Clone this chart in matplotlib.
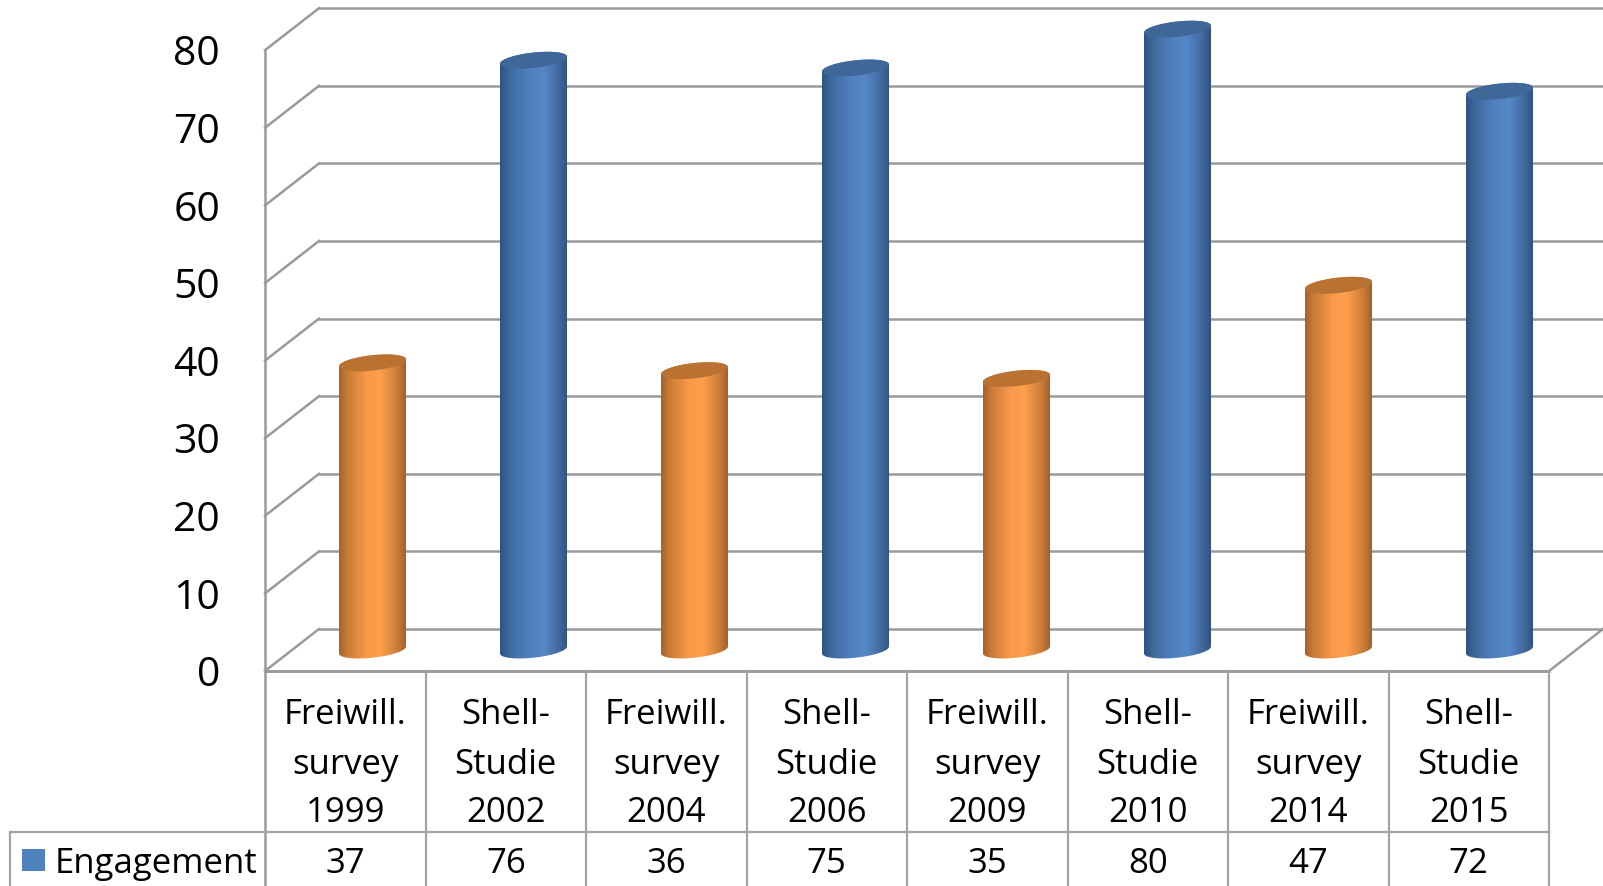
import numpy as np
import matplotlib
matplotlib.use("Agg")
import matplotlib.pyplot as plt
from matplotlib.colors import LinearSegmentedColormap
from matplotlib.patches import Polygon, Rectangle
from matplotlib.transforms import Affine2D

# Survey results
sources = ["Freiwill.\nsurvey\n1999", "Shell-\nStudie\n2002", "Freiwill.\nsurvey\n2004",
           "Shell-\nStudie\n2006", "Freiwill.\nsurvey\n2009", "Shell-\nStudie\n2010",
           "Freiwill.\nsurvey\n2014", "Shell-\nStudie\n2015"]
engagement = [37, 76, 36, 75, 35, 80, 47, 72]
series_name = "Engagement"
y_ticks = [0, 10, 20, 30, 40, 50, 60, 70, 80]

W, H = 1603, 886
FONT = "Open Sans"
GRID = "#9a9a9a"
STEP_X, CX0 = 161.0, 372.5       # pixels per category, first cylinder centre
UNIT_Y, Y0 = 7.76, 650.0         # pixels per unit, baseline of the cylinders
DEPTH_X, DEPTH_Y = 54, 41        # depth of the 3D box

fig = plt.figure(figsize=(W / 100, H / 100), dpi=100, facecolor="white")
ax = fig.add_axes([0, 0, 1, 1])
ax.set_xlim(-CX0 / STEP_X, (W - CX0) / STEP_X)
ax.set_ylim((Y0 - H) / UNIT_Y, Y0 / UNIT_Y)
ax.axis("off")

# Top-left pixel coordinates for the chart frame and the data table
px = Affine2D().scale(1, -1).translate(0, H)


def frame_line(xs, ys, lw=1.8, color=GRID):
    ax.plot(xs, ys, transform=px, color=color, lw=lw, zorder=1,
            solid_capstyle="projecting", clip_on=False)


front_zero = Y0 + 21
back_zero = front_zero - DEPTH_Y - 1
left, right = 265, 1549

# Walls and gridlines
for v in y_ticks:
    yf = front_zero - v * UNIT_Y
    yb = back_zero - v * UNIT_Y
    frame_line([left, left + DEPTH_X], [yf, yb])
    frame_line([left + DEPTH_X, W + 5], [yb, yb])
    ax.text(220, yf + 5, str(v), transform=px, ha="right", va="center",
            fontsize=29.5, family=FONT, color="black")
frame_line([left, left], [front_zero - y_ticks[-1] * UNIT_Y, H])
frame_line([left, right], [front_zero, front_zero], lw=2.1)
frame_line([right, right + DEPTH_X], [front_zero, back_zero])

# Cylinders
orange_cm = LinearSegmentedColormap.from_list(
    "orange", [(0, "#a4622a"), (0.12, "#c97a36"), (0.42, "#f9994a"), (0.62, "#fe9f4c"),
               (0.85, "#d18039"), (1, "#a3622a")])
blue_cm = LinearSegmentedColormap.from_list(
    "blue", [(0, "#2f5280"), (0.14, "#3f6a9f"), (0.45, "#5182c0"), (0.65, "#5687c6"),
             (0.87, "#41699f"), (1, "#30527f")])
half_w = 33.5 / STEP_X
ell_b = 7.7 / UNIT_Y
ell_k = 3.5 / UNIT_Y
t = np.linspace(0, 2 * np.pi, 121)
gradient = np.linspace(0, 1, 256).reshape(1, -1)

for i, value in enumerate(engagement):
    orange = i % 2 == 0
    ex = i + half_w * np.cos(t)
    ey = ell_b * np.sin(t) + ell_k * np.cos(t)
    # Body outline: upper half of the top ellipse, lower half of the base ellipse
    upper = t <= np.pi
    lower = t >= np.pi
    outline = np.vstack([
        np.column_stack([ex[upper], value + ey[upper]]),
        np.column_stack([ex[lower], ey[lower]]),
    ])
    body = Polygon(outline, closed=True, transform=ax.transData, facecolor="none", edgecolor="none")
    ax.add_patch(body)
    im = ax.imshow(gradient, cmap=orange_cm if orange else blue_cm, aspect="auto", zorder=3,
                   extent=[i - half_w, i + half_w, -2, value + 2], interpolation="bilinear")
    im.set_clip_path(body)
    ax.add_patch(Polygon(np.column_stack([ex, value + ey]), closed=True, zorder=4, lw=0,
                         facecolor="#b97231" if orange else "#3f6898"))

ax.set_xlim(-CX0 / STEP_X, (W - CX0) / STEP_X)
ax.set_ylim((Y0 - H) / UNIT_Y, Y0 / UNIT_Y)

# Data table under the chart
col_w = (right - left) / len(sources)
row_y = 832
frame_line([10, right], [row_y, row_y], lw=1.6, color="#a4a4a4")
frame_line([10, 10], [row_y, H], lw=1.6, color="#a4a4a4")
for i in range(1, len(sources) + 1):
    x = left + i * col_w
    frame_line([x, x], [front_zero, H], lw=1.6, color="#a4a4a4")
for i, (label, value) in enumerate(zip(sources, engagement)):
    xc = left + (i + 0.5) * col_w
    for j, line in enumerate(label.split("\n")):
        ax.text(xc, 711.5 + 49 * j, line, transform=px, ha="center", va="center_baseline",
                fontsize=25, family=FONT, color="black")
    ax.text(xc, 860, str(value), transform=px, ha="center", va="center_baseline",
            fontsize=25, family=FONT, color="black")

ax.add_patch(Rectangle((22, 849), 23, 22, transform=px, facecolor="#4f81bd", edgecolor="none", zorder=3))
ax.text(55, 860, series_name, transform=px, ha="left", va="center_baseline",
        fontsize=25, family=FONT, color="black")

fig.savefig("out.png", dpi=100, facecolor="white")
